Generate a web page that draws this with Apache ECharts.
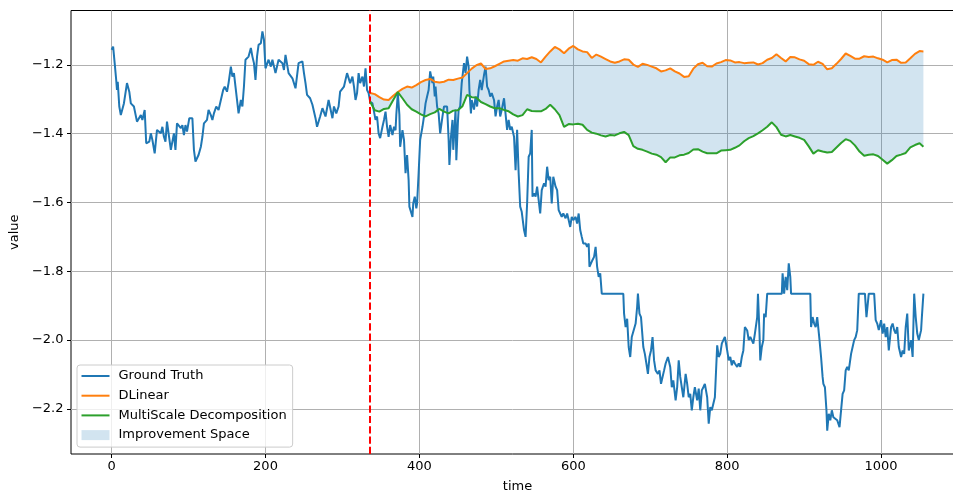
<!DOCTYPE html>
<html>
<head>
<meta charset="utf-8">
<script src="https://cdn.jsdelivr.net/npm/echarts/dist/echarts.min.js"></script>
<style>html,body{margin:0;padding:0;background:#fff}#chart{width:953px;height:494px}</style>
</head>
<body>
<div id="chart"></div>
<script>
// ---------- data ----------
const gtTime = [0,2,4,6,7,8,10,12,16,20,23,25,29,31,33,38,40,43,45,49,51,53,56,59,64,66,68,70,72,77,81,83,85,90,92,94,96,98,101,105,107,109,113,116,118,120,124,126,129,131,133,136,139,142,145,147,150,152,155,157,159,161,163,165,168,170,172,174,178,181,183,185,187,189,191,194,196,198,200,204,207,209,213,217,222,224,226,230,235,239,243,248,250,252,254,258,261,265,267,271,274,278,282,287,289,292,295,297,302,306,310,313,315,317,319,321,323,326,328,330,332,334,336,339,343,345,347,349,352,354,356,358,360,362,365,367,369,370,372,374,375,378,380,382,384,386,387,389,391,392,394,396,397,399,401,404,406,408,410,412,414,417,418,420,421,423,425,427,430,432,434,436,438,439,441,443,444,446,447,448,450,451,453,455,458,460,462,464,465,467,468,471,473,475,477,479,481,484,486,488,490,492,494,497,499,501,503,505,507,510,512,514,516,518,520,523,525,527,529,531,533,536,538,540,542,544,546,547,549,551,553,555,557,559,562,564,566,568,570,572,574,577,579,581,583,585,587,590,592,594,596,598,600,603,605,607,609,611,613,616,618,620,621,623,625,627,629,631,633,635,637,665,666,668,670,672,674,676,678,681,683,684,686,688,691,693,695,697,699,701,703,705,707,710,712,714,716,718,720,723,724,726,728,730,733,735,737,739,741,743,746,748,750,752,754,756,758,761,763,765,767,769,771,774,776,778,780,782,784,787,789,791,793,795,797,800,802,804,806,808,810,813,815,817,819,821,823,826,828,830,832,834,836,839,840,842,843,845,847,848,850,852,871,872,874,876,878,880,882,883,908,909,911,913,915,917,920,922,924,925,927,929,930,932,934,936,938,940,943,946,948,950,952,954,956,958,961,963,965,967,969,971,979,981,984,991,993,995,997,1000,1002,1004,1006,1008,1010,1013,1015,1017,1019,1021,1023,1026,1028,1030,1032,1034,1036,1039,1041,1043,1045,1047,1049,1052,1053,1055];
const gtValue = [-1.156,-1.147,-1.195,-1.244,-1.273,-1.249,-1.321,-1.346,-1.312,-1.253,-1.278,-1.312,-1.321,-1.317,-1.365,-1.346,-1.36,-1.331,-1.428,-1.423,-1.399,-1.418,-1.457,-1.389,-1.399,-1.38,-1.409,-1.423,-1.365,-1.447,-1.399,-1.447,-1.37,-1.384,-1.375,-1.404,-1.375,-1.394,-1.355,-1.355,-1.447,-1.481,-1.462,-1.438,-1.409,-1.37,-1.36,-1.331,-1.346,-1.36,-1.341,-1.321,-1.331,-1.302,-1.273,-1.263,-1.278,-1.253,-1.205,-1.234,-1.224,-1.263,-1.302,-1.341,-1.302,-1.321,-1.263,-1.185,-1.176,-1.151,-1.176,-1.195,-1.244,-1.176,-1.142,-1.137,-1.103,-1.127,-1.21,-1.185,-1.205,-1.185,-1.224,-1.185,-1.195,-1.215,-1.171,-1.224,-1.239,-1.268,-1.195,-1.19,-1.224,-1.253,-1.287,-1.297,-1.316,-1.355,-1.38,-1.35,-1.326,-1.35,-1.302,-1.355,-1.321,-1.341,-1.321,-1.278,-1.263,-1.224,-1.253,-1.234,-1.263,-1.302,-1.282,-1.224,-1.253,-1.234,-1.263,-1.21,-1.273,-1.282,-1.307,-1.312,-1.36,-1.35,-1.399,-1.413,-1.38,-1.36,-1.336,-1.38,-1.409,-1.375,-1.404,-1.38,-1.39,-1.345,-1.282,-1.345,-1.438,-1.39,-1.418,-1.515,-1.462,-1.535,-1.612,-1.627,-1.642,-1.603,-1.583,-1.617,-1.603,-1.515,-1.418,-1.38,-1.35,-1.312,-1.292,-1.273,-1.219,-1.253,-1.234,-1.292,-1.263,-1.321,-1.341,-1.399,-1.35,-1.321,-1.326,-1.321,-1.418,-1.491,-1.41,-1.36,-1.447,-1.37,-1.33,-1.477,-1.37,-1.33,-1.321,-1.253,-1.195,-1.224,-1.176,-1.205,-1.273,-1.341,-1.302,-1.33,-1.292,-1.321,-1.273,-1.244,-1.273,-1.229,-1.205,-1.263,-1.273,-1.292,-1.282,-1.302,-1.35,-1.321,-1.302,-1.35,-1.331,-1.297,-1.302,-1.389,-1.36,-1.389,-1.38,-1.409,-1.506,-1.389,-1.515,-1.612,-1.627,-1.68,-1.7,-1.603,-1.467,-1.457,-1.389,-1.583,-1.574,-1.583,-1.554,-1.593,-1.632,-1.564,-1.544,-1.554,-1.496,-1.535,-1.525,-1.603,-1.525,-1.554,-1.564,-1.622,-1.632,-1.642,-1.632,-1.646,-1.632,-1.651,-1.671,-1.642,-1.651,-1.642,-1.661,-1.632,-1.68,-1.7,-1.719,-1.719,-1.729,-1.719,-1.787,-1.777,-1.767,-1.758,-1.729,-1.787,-1.816,-1.806,-1.865,-1.865,-1.923,-1.962,-1.938,-2.02,-2.049,-1.991,-1.996,-1.952,-1.903,-1.865,-1.923,-1.933,-2.02,-2.04,-2.068,-2.098,-2.049,-2.03,-1.991,-2.059,-2.088,-2.098,-2.088,-2.127,-2.107,-2.088,-2.068,-2.049,-2.044,-2.078,-2.137,-2.117,-2.175,-2.137,-2.059,-2.107,-2.137,-2.166,-2.098,-2.127,-2.166,-2.156,-2.204,-2.166,-2.137,-2.175,-2.141,-2.204,-2.146,-2.137,-2.127,-2.166,-2.243,-2.195,-2.204,-2.185,-2.166,-2.015,-2.049,-2.04,-2.01,-2.0,-1.991,-2.03,-2.059,-2.049,-2.073,-2.059,-2.068,-2.078,-2.068,-2.078,-2.049,-2.03,-1.962,-1.972,-2.0,-1.991,-2.0,-2.01,-1.981,-1.933,-1.865,-1.981,-2.059,-2.02,-2.0,-1.923,-1.933,-1.865,-1.865,-1.806,-1.865,-1.816,-1.855,-1.777,-1.816,-1.865,-1.865,-1.962,-1.933,-1.952,-1.962,-1.933,-2.0,-2.049,-2.107,-2.127,-2.137,-2.204,-2.263,-2.214,-2.233,-2.204,-2.224,-2.224,-2.233,-2.253,-2.204,-2.156,-2.146,-2.088,-2.078,-2.088,-2.04,-2.02,-2.0,-1.991,-1.971,-1.865,-1.865,-1.933,-1.865,-1.865,-1.942,-1.952,-1.971,-1.942,-1.981,-1.952,-1.991,-1.962,-2.03,-1.962,-1.952,-1.971,-1.981,-1.962,-2.02,-2.049,-2.03,-2.04,-1.962,-1.923,-2.03,-2.0,-2.049,-1.865,-1.933,-1.981,-2.0,-1.971,-1.933,-1.865];

const fcTime = [336,342,348,354,360,366,372,378,384,390,396,402,408,414,420,426,432,438,444,450,456,462,468,474,480,486,492,498,504,510,516,522,528,534,540,546,552,558,564,570,576,582,588,594,600,606,612,618,624,630,636,642,648,654,660,666,672,678,684,690,696,702,708,714,720,726,732,738,744,750,756,762,768,774,780,786,792,798,804,810,816,822,828,834,840,846,852,858,864,870,876,882,888,894,900,906,912,918,924,930,936,942,948,954,960,966,972,978,984,990,996,1002,1008,1014,1020,1026,1032,1038,1044,1050,1055];
const dlinearValue = [-1.282,-1.285,-1.294,-1.301,-1.302,-1.29,-1.279,-1.27,-1.263,-1.266,-1.259,-1.25,-1.244,-1.241,-1.249,-1.251,-1.249,-1.243,-1.244,-1.24,-1.237,-1.224,-1.211,-1.201,-1.196,-1.212,-1.21,-1.204,-1.197,-1.19,-1.188,-1.186,-1.188,-1.181,-1.183,-1.178,-1.183,-1.193,-1.176,-1.161,-1.148,-1.155,-1.166,-1.153,-1.145,-1.155,-1.161,-1.163,-1.18,-1.17,-1.176,-1.183,-1.19,-1.194,-1.19,-1.184,-1.185,-1.199,-1.206,-1.197,-1.2,-1.205,-1.21,-1.219,-1.216,-1.21,-1.219,-1.225,-1.235,-1.233,-1.211,-1.198,-1.194,-1.204,-1.205,-1.196,-1.192,-1.186,-1.187,-1.193,-1.192,-1.195,-1.194,-1.193,-1.199,-1.195,-1.185,-1.18,-1.169,-1.18,-1.19,-1.177,-1.178,-1.184,-1.188,-1.198,-1.2,-1.191,-1.197,-1.213,-1.21,-1.197,-1.183,-1.167,-1.174,-1.182,-1.182,-1.175,-1.177,-1.176,-1.181,-1.185,-1.193,-1.186,-1.185,-1.194,-1.193,-1.181,-1.168,-1.16,-1.161];
const multiScaleValue = [-1.307,-1.332,-1.336,-1.328,-1.326,-1.302,-1.279,-1.297,-1.316,-1.329,-1.336,-1.344,-1.35,-1.343,-1.338,-1.328,-1.336,-1.341,-1.333,-1.332,-1.32,-1.287,-1.294,-1.295,-1.308,-1.314,-1.321,-1.326,-1.326,-1.331,-1.335,-1.344,-1.35,-1.346,-1.329,-1.334,-1.335,-1.335,-1.328,-1.316,-1.329,-1.346,-1.38,-1.372,-1.373,-1.371,-1.374,-1.389,-1.397,-1.4,-1.405,-1.408,-1.404,-1.405,-1.399,-1.395,-1.404,-1.436,-1.444,-1.447,-1.452,-1.458,-1.461,-1.468,-1.483,-1.469,-1.469,-1.463,-1.461,-1.456,-1.446,-1.445,-1.452,-1.457,-1.457,-1.457,-1.449,-1.448,-1.447,-1.441,-1.434,-1.422,-1.413,-1.407,-1.399,-1.39,-1.38,-1.367,-1.381,-1.403,-1.408,-1.404,-1.408,-1.412,-1.418,-1.437,-1.458,-1.448,-1.452,-1.455,-1.453,-1.44,-1.427,-1.416,-1.421,-1.434,-1.452,-1.464,-1.461,-1.46,-1.465,-1.476,-1.487,-1.477,-1.465,-1.461,-1.456,-1.44,-1.433,-1.428,-1.438];

const splitTime = 336;
const xTicks = [0, 200, 400, 600, 800, 1000];
const yTicks = [-2.2, -2.0, -1.8, -1.6, -1.4, -1.2];
const xRange = [-52.75, 1107.75];
const yRange = [-2.331, -1.042];

// ---------- chart ----------
const font = 'DejaVu Sans';
const fmtY = v => (v < 0 ? '\u2212' : '') + Math.abs(v).toFixed(1);
const pairs = (xs, ys) => xs.map((x, i) => [x, ys[i]]);
const lineIcon = 'path://M0,0L28,0L28,2L0,2Z';
const bandData = fcTime.map((t, i) => [t, dlinearValue[i], multiScaleValue[i]]);

const chart = echarts.init(document.getElementById('chart'), null, {renderer: 'canvas'});
chart.setOption({
  animation: false,
  backgroundColor: '#ffffff',
  textStyle: {fontFamily: font},
  grid: {left: 71, right: -11, top: 10.5, bottom: 40, show: true, borderColor: '#000', borderWidth: 1,
         backgroundColor: 'transparent', containLabel: false, outerBoundsMode: 'none'},
  xAxis: {
    type: 'value', min: xRange[0], max: xRange[1],
    name: 'time', nameLocation: 'middle', nameGap: 26,
    nameTextStyle: {fontSize: 13, color: '#000', fontFamily: font},
    axisLine: {show: false, onZero: false},
    axisTick: {show: true, length: 4, customValues: xTicks, lineStyle: {color: '#000', width: 1}},
    axisLabel: {customValues: xTicks, color: '#000', fontSize: 13, fontFamily: font, margin: 6, formatter: v => String(v)},
    splitLine: {show: true, lineStyle: {color: '#b0b0b0', width: 1}}
  },
  yAxis: {
    type: 'value', min: yRange[0], max: yRange[1],
    name: 'value', nameLocation: 'middle', nameGap: 38,
    nameTextStyle: {fontSize: 13, color: '#000', fontFamily: font},
    axisLine: {show: false, onZero: false},
    axisTick: {show: true, length: 4, customValues: yTicks, lineStyle: {color: '#000', width: 1}},
    axisLabel: {customValues: yTicks, color: '#000', fontSize: 13, fontFamily: font, margin: 7.5, formatter: fmtY},
    splitLine: {show: true, lineStyle: {color: '#b0b0b0', width: 1}}
  },
  legend: {
    orient: 'vertical', left: 77, top: 365,
    padding: [4.5, 6, 5.5, 4.5],
    itemWidth: 28, itemHeight: 10, itemGap: 6.7,
    symbolKeepAspect: true,
    backgroundColor: 'rgba(255,255,255,0.8)', borderColor: '#cccccc', borderWidth: 1, borderRadius: 3,
    textStyle: {fontSize: 13, color: '#000', fontFamily: font, lineHeight: 13, padding: [0, 0, 0, 4]},
    data: [
      {name: 'Ground Truth', icon: lineIcon},
      {name: 'DLinear', icon: lineIcon},
      {name: 'MultiScale Decomposition', icon: lineIcon},
      {name: 'Improvement Space', icon: 'rect', itemStyle: {color: 'rgba(31,119,180,0.2)', opacity: 1}}
    ]
  },
  series: [
    {
      type: 'custom', name: 'Improvement Space', coordinateSystem: 'cartesian2d',
      data: bandData, encode: {x: 0, y: [1, 2]}, silent: true, z: 1,
      itemStyle: {color: 'rgba(31,119,180,0.2)'},
      renderItem: (params, api) => {
        if (params.dataIndex !== 0) return null;
        const upper = bandData.map(d => api.coord([d[0], d[1]]));
        const lower = bandData.map(d => api.coord([d[0], d[2]])).reverse();
        return {type: 'polygon', shape: {points: upper.concat(lower)}, style: {fill: 'rgba(31,119,180,0.2)'}};
      }
    },
    {
      type: 'line', name: 'Ground Truth', data: pairs(gtTime, gtValue), symbol: 'none',
      lineStyle: {color: '#1f77b4', width: 2}, itemStyle: {color: '#1f77b4'}, z: 3
    },
    {
      type: 'line', name: 'DLinear', data: pairs(fcTime, dlinearValue), symbol: 'none',
      lineStyle: {color: '#ff7f0e', width: 2}, itemStyle: {color: '#ff7f0e'}, z: 4
    },
    {
      type: 'line', name: 'MultiScale Decomposition', data: pairs(fcTime, multiScaleValue), symbol: 'none',
      lineStyle: {color: '#2ca02c', width: 2}, itemStyle: {color: '#2ca02c'}, z: 5,
      markLine: {
        silent: true, symbol: 'none', label: {show: false}, animation: false,
        lineStyle: {color: '#ff0000', type: [7.2, 3.1], width: 2},
        data: [{xAxis: splitTime}]
      }
    }
  ]
});
</script>
</body>
</html>
